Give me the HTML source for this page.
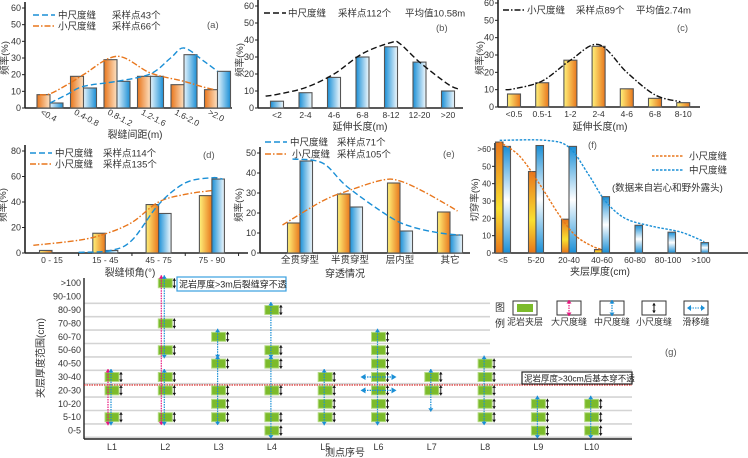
<!DOCTYPE html>
<html><head><meta charset="utf-8">
<style>
html,body{margin:0;padding:0;background:#fff;}
svg{display:block;font-family:"Liberation Sans","Noto Sans CJK SC",sans-serif;}
</style></head>
<body>
<svg id="fig" width="748" height="458" viewBox="0 0 748 458" xmlns="http://www.w3.org/2000/svg">
<defs>
<linearGradient id="gOrA" x1="0" x2="1"><stop offset="0" stop-color="#e8761c"/><stop offset="1" stop-color="#fde2c4"/></linearGradient>
<linearGradient id="gBlA" x1="0" x2="1"><stop offset="0" stop-color="#e6f4fc"/><stop offset="1" stop-color="#1a8fd6"/></linearGradient>
<linearGradient id="gBl" x1="0" x2="1"><stop offset="0" stop-color="#1a8fd6"/><stop offset="1" stop-color="#f2f9fd"/></linearGradient>
<linearGradient id="gOr" x1="0" x2="1"><stop offset="0" stop-color="#fff27a"/><stop offset="1" stop-color="#e8761c"/></linearGradient>
<linearGradient id="gOrF" x1="0" x2="0" y1="0" y2="1"><stop offset="0" stop-color="#e8761c"/><stop offset="0.6" stop-color="#f9e030"/><stop offset="1" stop-color="#e8761c"/></linearGradient>
<linearGradient id="gBlF" x1="0" x2="0" y1="0" y2="1"><stop offset="0" stop-color="#1a8fd6"/><stop offset="0.5" stop-color="#ffffff"/><stop offset="1" stop-color="#1a8fd6"/></linearGradient>
</defs>
<g id="root"></g>
</svg>
<script>
// ---------- data ----------
const aCats = ["<0.4","0.4-0.8","0.8-1.2","1.2-1.6","1.6-2.0",">2.0"];
const aSmall = [8,19,29,19,14,11];
const aMedium = [3,12,16,19,32,22];
const aSmallCurveI = [-0.3,0,0.6,1,2,3,4,4.5,4.9];
const aSmallCurveV = [8,8.5,15,20,31,21,16,13,11];
const aMedCurveI = [0,0.5,1,2,3,3.6,4,4.6,5];
const aMedCurveV = [3,8,13,16,20.5,30,36,28,22];

const bCats = ["<2","2-4","4-6","6-8","8-12","12-20",">20"];
const bMedium = [4,9,18,30,36,27,10];
const bCurveI = [-0.4,0,1,2,3,4,4.3,5,6,6.4];
const bCurveV = [7,8,12,20,32,38.5,38,27,14,11];

const cCats = ["<0.5","0.5-1","1-2","2-4","4-6","6-8","8-10"];
const cSmall = [7.5,14,27,35,10.5,5,2.5];
const cCurveI = [-0.3,0,1,2,3,4,5,5.9];
const cCurveV = [10,10.5,15,27,36,20,7,3];

const dCats = ["0 - 15","15 - 45","45 - 75","75 - 90"];
const dSmall = [2,15.5,38,45];
const dMedium = [0,2,31,58];
const dSmallCurveI = [-0.35,0.5,1,1.5,2,2.5,3];
const dSmallCurveV = [6,10,15,24,40,46,49];
const dMedCurveI = [0.5,1.1,1.5,2,2.5,3,3.2];
const dMedCurveV = [0.5,2,10,38,55,59,58];

const eCats = ["全贯穿型","半贯穿型","层内型","其它"];
const eSmall = [15,29.5,35,20.5];
const eMedium = [46,23,11,9];
const eSmallCurveI = [-0.35,0.45,0.95,1.65,2,2.45,2.95,3.15];
const eSmallCurveV = [14,26,31,36.5,36,31,24,21];
const eMedCurveI = [-0.15,0.45,0.95,1.8,2.25,2.8,3.2];
const eMedCurveV = [47,45,33,18,13,10,9];

const fCats = ["<5","5-20","20-40","40-60","60-80","80-100",">100"];
const fSmall = [64,47,19.5,2,null,null,null];
const fMedium = [61.5,62,61.5,32.5,16,12,6];
const fSmallCurveI = [-0.1,0.5,1.1,1.7,2.2,2.7,3];
const fSmallCurveV = [64,56,40,22,10,4,2];
const fMedCurveI = [-0.1,1.3,2,2.6,3.1,3.7,4.5,5.4,6.1];
const fMedCurveV = [65,65,61,45,30,20,15.5,12,6.5];
const fTicks = ["0","10","20","30","40","50",">60"];

const gSites = ["L1","L2","L3","L4","L5","L6","L7","L8","L9","L10"];
const gRows = ["0-5","5-10","10-20","20-30","30-40","40-50","50-60","60-70","70-80","80-90","90-100",">100"];
const gLayers = [[1,3,4],[1,3,4,6,8,11],[1,2,3,5,7],[0,1,3,5,6,9],[1,2,3,4],[1,2,3,4,5,6,7],[3,4],[1,2,3,4,5],[0,1,2],[0,1,2]];
const gMedSpans = [[[1,4]],[[1,4],[6,11]],[[1,5],[6,7]],[[0,5],[6,9]],[[1,4]],[[1,7]],[[2,4]],[[1,5]],[[0,2]],[[0,2]]];
const gLargeSpans = [[[1,4]],[[1,11]],[],[],[],[],[],[],[],[]];
const gSlipSite = 5;
const gSlipRows = [3,4];

// ---------- helpers ----------
const NS="http://www.w3.org/2000/svg";
const root=document.getElementById('root');
function el(tag,attrs,parent,text){const e=document.createElementNS(NS,tag);for(const k in attrs)e.setAttribute(k,attrs[k]);if(text!==undefined)e.textContent=text;(parent||root).appendChild(e);return e;}
function smooth(pts){let d="M"+pts[0][0]+","+pts[0][1];for(let i=0;i<pts.length-1;i++){const p0=pts[i-1]||pts[i],p1=pts[i],p2=pts[i+1],p3=pts[i+2]||p2;const c1x=p1[0]+(p2[0]-p0[0])/6,c1y=p1[1]+(p2[1]-p0[1])/6,c2x=p2[0]-(p3[0]-p1[0])/6,c2y=p2[1]-(p3[1]-p1[1])/6;d+=" C"+c1x+","+c1y+" "+c2x+","+c2y+" "+p2[0]+","+p2[1];}return d;}

function panel(cfg){
  const g=el('g',{});
  
  
  const ys=v=>cfg.y0-(v/cfg.ymax)*(cfg.y0-cfg.yTop);
  const xs=i=>cfg.start+i*cfg.step;
  const ya=el('line',{x1:cfg.ax,y1:cfg.y0,x2:cfg.ax,y2:cfg.yTop-6,stroke:'#222','stroke-width':1.6},g);
  
  const xa=el('line',{x1:cfg.ax,y1:cfg.y0,x2:cfg.xEnd,y2:cfg.y0,stroke:'#222','stroke-width':1.6},g);
  
  cfg.ticks.forEach((t,k)=>{const v=k*cfg.tickStep;const y=ys(v);
    el('line',{x1:cfg.ax-3,y1:y,x2:cfg.ax,y2:y,stroke:'#222','stroke-width':1},g);
    const tl=el('text',{x:cfg.ax-4,y:y+3,'font-size':cfg.tickSize||9,'text-anchor':'end',fill:'#333'},g,t);
    });
  if(cfg.catTicks){for(let i=0;i<=cfg.cats.length;i++){const x=xs(i)-cfg.step/2;if(x>cfg.ax+2)el('line',{x1:x,y1:cfg.y0,x2:x,y2:cfg.y0+3,stroke:'#222'},g);}}
  cfg.cats.forEach((c,i)=>{let t;
    if(cfg.rot){t=el('text',{x:xs(i)-10,y:cfg.y0+6,'font-size':8.5,fill:'#333',transform:'rotate(28 '+(xs(i)-10)+' '+(cfg.y0+6)+')'},g,c);}
    else t=el('text',{x:xs(i)+(cfg.labOff||0),y:cfg.y0+(cfg.labDy||10),'font-size':cfg.labSize||8.5,'text-anchor':'middle',fill:'#333'},g,c);
    });
  const bw=cfg.bw;
  (cfg.series||[]).forEach(s=>{s.data.forEach((v,i)=>{if(v===null||v===undefined)return;const top=ys(Math.min(v,cfg.ymax+5));
    const x=xs(i)+s.off*bw;
    const r=el('rect',{x:x,y:top,width:bw,height:cfg.y0-top,fill:s.fill,stroke:'#555','stroke-width':1.1},g);
    });});
  (cfg.curves||[]).forEach(c=>{const pts=c.i.map((ii,k)=>[xs(ii),ys(c.v[k])]);
    const p=el('path',{d:smooth(pts),fill:'none',stroke:c.color,'stroke-width':1.4,'stroke-dasharray':c.dash},g);
    });
  const yl=el('text',{x:cfg.ylx,y:cfg.yly,'font-size':9.5,fill:'#333','text-anchor':'middle',transform:'rotate(-90 '+cfg.ylx+' '+cfg.yly+')'},g,cfg.ylabel);
  
  const xl=el('text',{x:cfg.xlx,y:cfg.xly,'font-size':10,fill:'#333','text-anchor':'middle'},g,cfg.xlabel);
  
  const pl=el('text',{x:cfg.plx,y:cfg.ply,'font-size':9.5,fill:'#555'},g,cfg.plabel);
  
  (cfg.legend||[]).forEach(L=>{
    const ln=el('line',{x1:L.x,y1:L.y,x2:L.x+L.w,y2:L.y,stroke:L.color,'stroke-width':1.6,'stroke-dasharray':L.dash},g);
    
    L.texts.forEach(tt=>{const t=el('text',{x:tt[0],y:L.y+3.5,'font-size':9.5,fill:'#333'},g,tt[1]);
      });});
  (cfg.notes||[]).forEach(n=>{const t=el('text',{x:n[0],y:n[1],'font-size':9.5,fill:'#333'},g,n[2]);});
}

const BLUE='#1a8fd6',ORANGE='#e8761c';
panel({name:'chart-a',ax:25,y0:108,yTop:8,ymax:60,ticks:["0","10","20","30","40","50","60"],tickStep:10,xEnd:232,start:50,step:33.5,bw:13,cats:aCats,rot:true,
 series:[{key:'small',data:aSmall,off:-1,fill:'url(#gOrA)'},{key:'medium',data:aMedium,off:0,fill:'url(#gBlA)'}],
 curves:[{key:'small',i:aSmallCurveI,v:aSmallCurveV,color:ORANGE,dash:'6 2 1.5 2'},{key:'medium',i:aMedCurveI,v:aMedCurveV,color:BLUE,dash:'6 3'}],
 ylabel:'频率(%)',ylx:8,yly:58,xlabel:'裂缝间距(m)',xlx:135,xly:138,plabel:'(a)',plx:207,ply:28,
 legend:[{x:33,y:15,w:22,color:BLUE,dash:'6 3',texts:[[58,'中尺度缝'],[112,'采样点43个']]},{x:33,y:26,w:22,color:ORANGE,dash:'6 2 1.5 2',texts:[[58,'小尺度缝'],[112,'采样点66个']]}]});
panel({name:'chart-b',ax:258,y0:108,yTop:6,ymax:60,ticks:["0","10","20","30","40","50","60"],tickStep:10,xEnd:463,start:277,step:28.5,bw:13,cats:bCats,labDy:10,
 series:[{key:'medium',data:bMedium,off:-0.5,fill:'url(#gBl)'}],
 curves:[{key:'medium',i:bCurveI,v:bCurveV,color:'#111',dash:'6 3'}],
 ylabel:'频率(%)',ylx:243,yly:60,xlabel:'延伸长度(m)',xlx:360,xly:130,plabel:'(b)',plx:436,ply:31,
 legend:[{x:264,y:13,w:22,color:'#111',dash:'6 3',texts:[[288,'中尺度缝'],[338,'采样点112个'],[405,'平均值10.58m']]}]});
panel({name:'chart-c',ax:498,y0:107,yTop:3,ymax:60,ticks:["0","10","20","30","40","50","60"],tickStep:10,xEnd:700,start:514,step:28.2,bw:13,cats:cCats,labDy:10,
 series:[{key:'small',data:cSmall,off:-0.5,fill:'url(#gOr)'}],
 curves:[{key:'small',i:cCurveI,v:cCurveV,color:'#111',dash:'6 2 1.5 2'}],
 ylabel:'频率(%)',ylx:483,yly:58,xlabel:'延伸长度(m)',xlx:600,xly:130,plabel:'(c)',plx:677,ply:31,
 legend:[{x:503,y:10,w:22,color:'#111',dash:'6 2 1.5 2',texts:[[527,'小尺度缝'],[576,'采样点89个'],[636,'平均值2.74m']]}]});
panel({name:'chart-d',ax:25,y0:253,yTop:151,ymax:80,ticks:["0","20","40","60","80"],tickStep:20,xEnd:248,start:52,step:53.3,bw:12.5,cats:dCats,catTicks:true,
 series:[{key:'small',data:dSmall,off:-1,fill:'url(#gOr)'},{key:'medium',data:dMedium,off:0,fill:'url(#gBl)'}],
 curves:[{key:'small',i:dSmallCurveI,v:dSmallCurveV,color:ORANGE,dash:'6 2 1.5 2'},{key:'medium',i:dMedCurveI,v:dMedCurveV,color:BLUE,dash:'6 3'}],
 ylabel:'频率(%)',ylx:6,yly:205,xlabel:'裂缝倾角(°)',xlx:130,xly:276,plabel:'(d)',plx:203,ply:158,
 legend:[{x:30,y:153,w:22,color:BLUE,dash:'6 3',texts:[[55,'中尺度缝'],[103,'采样点114个']]},{x:30,y:164,w:22,color:ORANGE,dash:'6 2 1.5 2',texts:[[55,'小尺度缝'],[103,'采样点135个']]}]});
panel({name:'chart-e',ax:260,y0:253,yTop:153,ymax:50,ticks:["0","10","20","30","40","50"],tickStep:10,xEnd:470,start:300,step:50,bw:12.5,cats:eCats,labSize:9.5,
 series:[{key:'small',data:eSmall,off:-1,fill:'url(#gOr)'},{key:'medium',data:eMedium,off:0,fill:'url(#gBl)'}],
 curves:[{key:'small',i:eSmallCurveI,v:eSmallCurveV,color:ORANGE,dash:'6 2 1.5 2'},{key:'medium',i:eMedCurveI,v:eMedCurveV,color:BLUE,dash:'6 3'}],
 ylabel:'频率(%)',ylx:242,yly:205,xlabel:'穿透情况',xlx:345,xly:277,plabel:'(e)',plx:443,ply:157,
 legend:[{x:265,y:142,w:22,color:BLUE,dash:'6 3',texts:[[290,'中尺度缝'],[337,'采样点71个']]},{x:265,y:154,w:22,color:ORANGE,dash:'6 2 1.5 2',texts:[[292,'小尺度缝'],[337,'采样点105个']]}]});
panel({name:'chart-f',ax:495,y0:253,yTop:149,ymax:60,ticks:fTicks,tickStep:10,tickSize:8,xEnd:748,start:503,step:33,bw:7.5,cats:fCats,labSize:8.5,
 series:[{key:'small',data:fSmall,off:-1,fill:'url(#gOrF)'},{key:'medium',data:fMedium,off:0,fill:'url(#gBlF)'}],
 curves:[{key:'small',i:fSmallCurveI,v:fSmallCurveV,color:ORANGE,dash:'2.5 1.5'},{key:'medium',i:fMedCurveI,v:fMedCurveV,color:BLUE,dash:'2.5 1.5'}],
 ylabel:'切穿率(%)',ylx:478,yly:200,xlabel:'夹层厚度(cm)',xlx:600,xly:275,plabel:'(f)',plx:588,ply:148,
 legend:[{x:652,y:156,w:32,color:ORANGE,dash:'2.5 1.5',texts:[[689,'小尺度缝']]},{x:652,y:170,w:32,color:BLUE,dash:'2.5 1.5',texts:[[689,'中尺度缝']]}],
 notes:[[612,191,'(数据来自岩心和野外露头)']]});

// ---------- (g) ----------
(function(){
 const g=el('g',{});
 
 
 const AX=84,X0=112,XS=53.3,Y0=430.6,YS=13.4,XEND=632,YB=439;
 const gx=i=>X0+i*XS, gy=r=>Y0-r*YS;
 gRows.forEach((r,k)=>{
   if(k<gRows.length-1){const ln=el('line',{x1:AX,y1:gy(k)+YS/2,x2:(k>=7?490:XEND),y2:gy(k)+YS/2,stroke:'#d4d4d4','stroke-width':1.6},g);
     }
   const t=el('text',{x:AX-3,y:gy(k)+3,'font-size':9,'text-anchor':'end',fill:'#333'},g,r);
   });
 const ya=el('line',{x1:AX,y1:YB,x2:AX,y2:278,stroke:'#222','stroke-width':1.4},g);
 
 const xa=el('line',{x1:AX,y1:YB,x2:XEND,y2:YB,stroke:'#222','stroke-width':1.4},g);
 
 const red=el('line',{x1:AX,y1:385,x2:XEND,y2:385,stroke:'#e03030','stroke-width':1.2,'stroke-dasharray':'1.5 1'},g);
 
 gSites.forEach((s,i)=>{const t=el('text',{x:gx(i),y:YB+11,'font-size':9,'text-anchor':'middle',fill:'#333'},g,s);
   });
 function varrow(x,y1,y2,color,dash,w,hs){hs=hs||2.5;el('line',{x1:x,y1:y1,x2:x,y2:y2,stroke:color,'stroke-width':w||1.2,'stroke-dasharray':dash},g);
   el('path',{d:`M${x-hs},${y1+hs*1.4} L${x},${y1} L${x+hs},${y1+hs*1.4}Z`,fill:color},g);
   el('path',{d:`M${x-hs},${y2-hs*1.4} L${x},${y2} L${x+hs},${y2-hs*1.4}Z`,fill:color},g);}
 gLayers.forEach((rows,i)=>{rows.forEach(r=>{const b=el('rect',{x:gx(i)-7,y:gy(r)-4.5,width:14,height:9,fill:'#7cbb2b',stroke:'#b5dc85','stroke-width':1},g);
   
   varrow(gx(i)+9,gy(r)-5,gy(r)+5,'#111',null,0.9,1.8);});});
 gLargeSpans.forEach((sp,i)=>sp.forEach(s=>varrow(gx(i)-4,gy(s[1])-8,gy(s[0])+8,'#e8177f','1.5 1',1.2)));
 gMedSpans.forEach((sp,i)=>sp.forEach(s=>varrow(gx(i)-1,gy(s[1])-8,gy(s[0])+8,BLUE,'1.5 1',1.2)));
 gSlipRows.forEach(r=>{const y=gy(r),x=gx(gSlipSite);el('line',{x1:x-14,y1:y,x2:x+14,y2:y,stroke:BLUE,'stroke-width':1.2,'stroke-dasharray':'1.5 1'},g);
   el('path',{d:`M${x-18},${y} L${x-13},${y-3} L${x-13},${y+3}Z M${x+18},${y} L${x+13},${y-3} L${x+13},${y+3}Z`,fill:BLUE},g);});
 const n1=el('rect',{x:177,y:277,width:109,height:14,fill:'#fff',stroke:'#3aa0e0','stroke-width':1.2},g);
 
 el('text',{x:179,y:287.5,'font-size':9,fill:'#222'},g,'泥岩厚度>3m后裂缝穿不透');
 const n2=el('rect',{x:522,y:372,width:110,height:12,fill:'#fff',stroke:'#222','stroke-width':1.2},g);
 
 el('text',{x:524,y:381.5,'font-size':8.5,fill:'#222'},g,'泥岩厚度>30cm后基本穿不透');
 el('text',{x:495,y:311,'font-size':10,fill:'#333'},g,'图');
 el('text',{x:495,y:327,'font-size':10,fill:'#333'},g,'例');
 const legX=[513,557,600,642,684], legN=['泥岩夹层','大尺度缝','中尺度缝','小尺度缝','滑移缝'];
 legX.forEach((x,k)=>{const r=el('rect',{x:x,y:301,width:24,height:14,fill:'#fff',stroke:'#333','stroke-width':1},g);
   
   if(k===0)el('rect',{x:x+4,y:304,width:16,height:8,fill:'#7cbb2b'},g);
   if(k===1)varrow(x+12,300,316,'#e8177f','1.5 1');
   if(k===2)varrow(x+12,300,316,BLUE,'1.5 1');
   if(k===3)varrow(x+12,303,313,'#111',null,1,1.8);
   if(k===4){el('line',{x1:x+6,y1:308,x2:x+18,y2:308,stroke:BLUE,'stroke-dasharray':'1.5 1'},g);el('path',{d:`M${x+3},308 L${x+7},305 L${x+7},311Z M${x+21},308 L${x+17},305 L${x+17},311Z`,fill:BLUE},g);}
   el('text',{x:x+12,y:325,'font-size':9,'text-anchor':'middle',fill:'#333'},g,legN[k]);});
 el('text',{x:665,y:355,'font-size':9.5,fill:'#555'},g,'(g)');
 const yt=el('text',{x:44,y:358,'font-size':10,'text-anchor':'middle',fill:'#333',transform:'rotate(-90 44 358)'},g,'夹层厚度范围(cm)');
 
 const xt=el('text',{x:345,y:456,'font-size':10,'text-anchor':'middle',fill:'#333'},g,'测点序号');
 
})();
</script>
</body></html>
